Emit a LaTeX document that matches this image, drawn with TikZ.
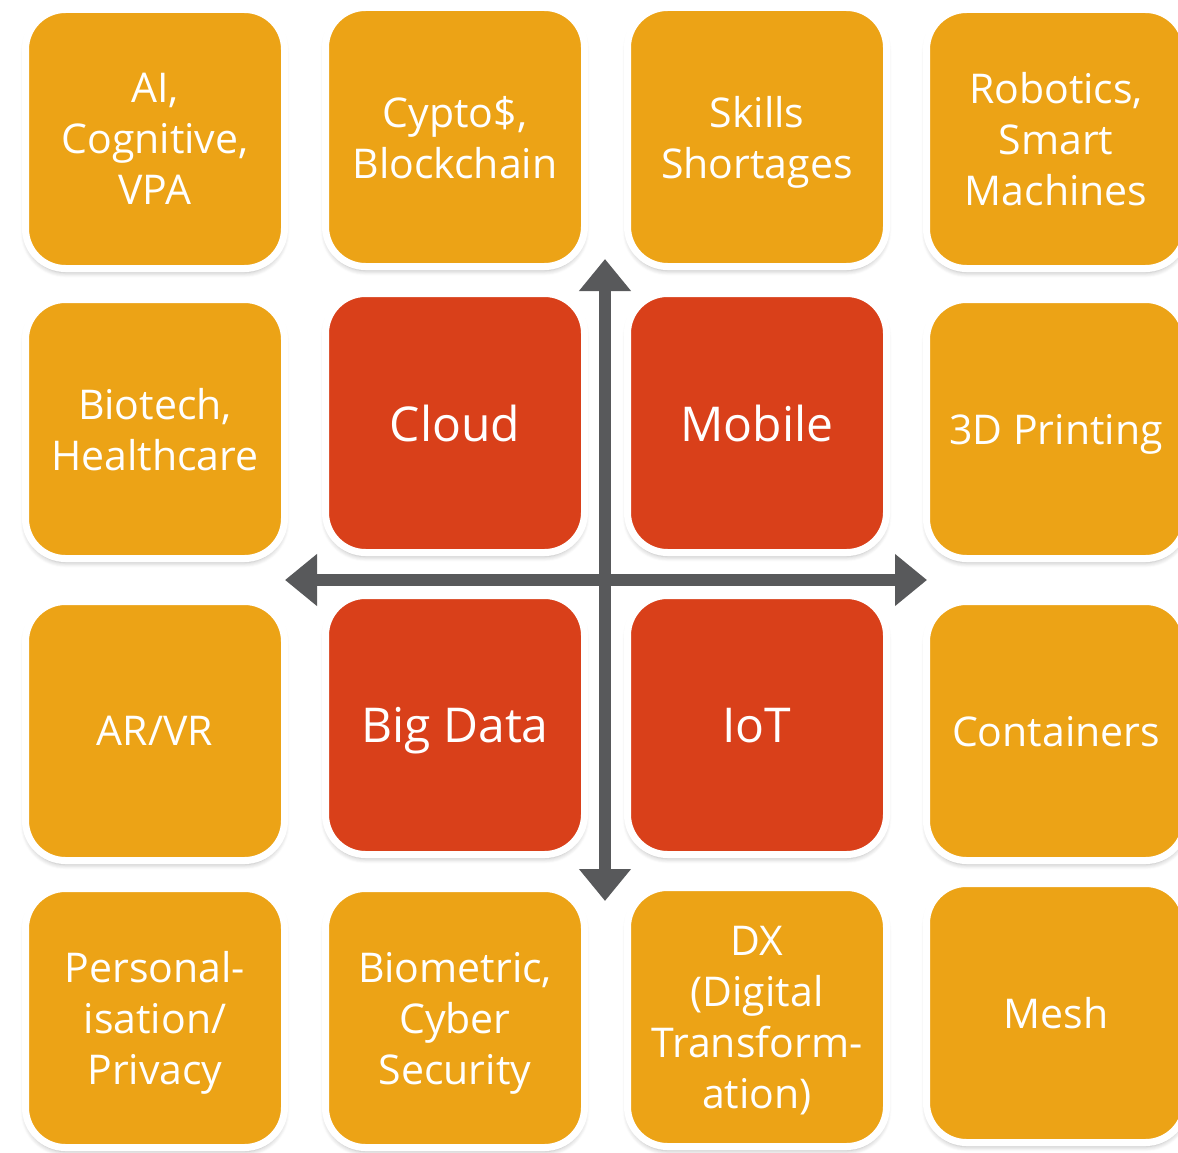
\documentclass[tikz,border=0pt]{standalone}
\usepackage{fontspec}
\setmainfont{Open Sans}
\usepackage{tikz}
\usetikzlibrary{arrows.meta}
\usetikzlibrary{shadows.blur}
\usepackage{xcolor}
\definecolor{tileorange}{RGB}{236,163,22}
\definecolor{tilered}{RGB}{217,64,26}
\definecolor{axisgray}{RGB}{88,89,91}

\begin{document}
\begin{tikzpicture}[x=1pt,y=-1pt]
  \tikzstyle{every node}=[shape=rectangle,rounded corners=40pt,draw=white,line width=7pt,minimum size=259pt,inner sep=0pt,text=white,align=center,text depth=0pt,blur shadow={shadow xshift=0pt,shadow yshift=-4pt,shadow blur steps=6,shadow blur radius=5pt,shadow opacity=30}]
  \tikzstyle{tile}=[fill=tileorange,font=\fontsize{41}{51}\selectfont]
  \tikzstyle{hot}=[fill=tilered,font=\fontsize{48}{51}\selectfont]
  \tikzstyle{axis}=[line width=12pt,draw=axisgray,{Triangle[length=32pt,width=50pt]}-{Triangle[length=32pt,width=50pt]}]

  \useasboundingbox (0,0) rectangle (1178,1153);

  \node [tile] (ai)         at (155,139)  {AI,\\Cognitive,\\VPA};
  \node [tile] (crypto)     at (455,137)  {Cypto\$,\\Blockchain};
  \node [tile] (skills)     at (757,137)  {Skills\\Shortages};
  \node [tile] (robotics)   at (1056,139) {Robotics,\\Smart\\Machines};

  \node [tile] (biotech)    at (155,429)  {Biotech,\\Healthcare};
  \node [hot]  (cloud)      at (455,423)  {Cloud};
  \node [hot]  (mobile)     at (757,423)  {Mobile};
  \node [tile] (printing)   at (1056,429) {3D Printing};

  \node [tile] (arvr)       at (155,731)  {AR/VR};
  \node [hot]  (bigdata)    at (455,725)  {Big Data};
  \node [hot]  (iot)        at (757,725)  {IoT};
  \node [tile] (containers) at (1056,731) {Containers};

  \node [tile] (privacy)    at (155,1018) {Personal-\\isation/\\Privacy};
  \node [tile] (security)   at (455,1018) {Biometric,\\Cyber\\Security};
  \node [tile] (dx)         at (757,1017) {DX\\(Digital\\Transform-\\ation)};
  \node [tile] (mesh)       at (1056,1013) {Mesh};

  % axes
  \coordinate (up)    at (605,259);
  \coordinate (down)  at (605,901);
  \coordinate (left)  at (285,580);
  \coordinate (right) at (927,580);
  \draw [axis] (up) -- (down);
  \draw [axis] (left) -- (right);
\end{tikzpicture}
\end{document}
